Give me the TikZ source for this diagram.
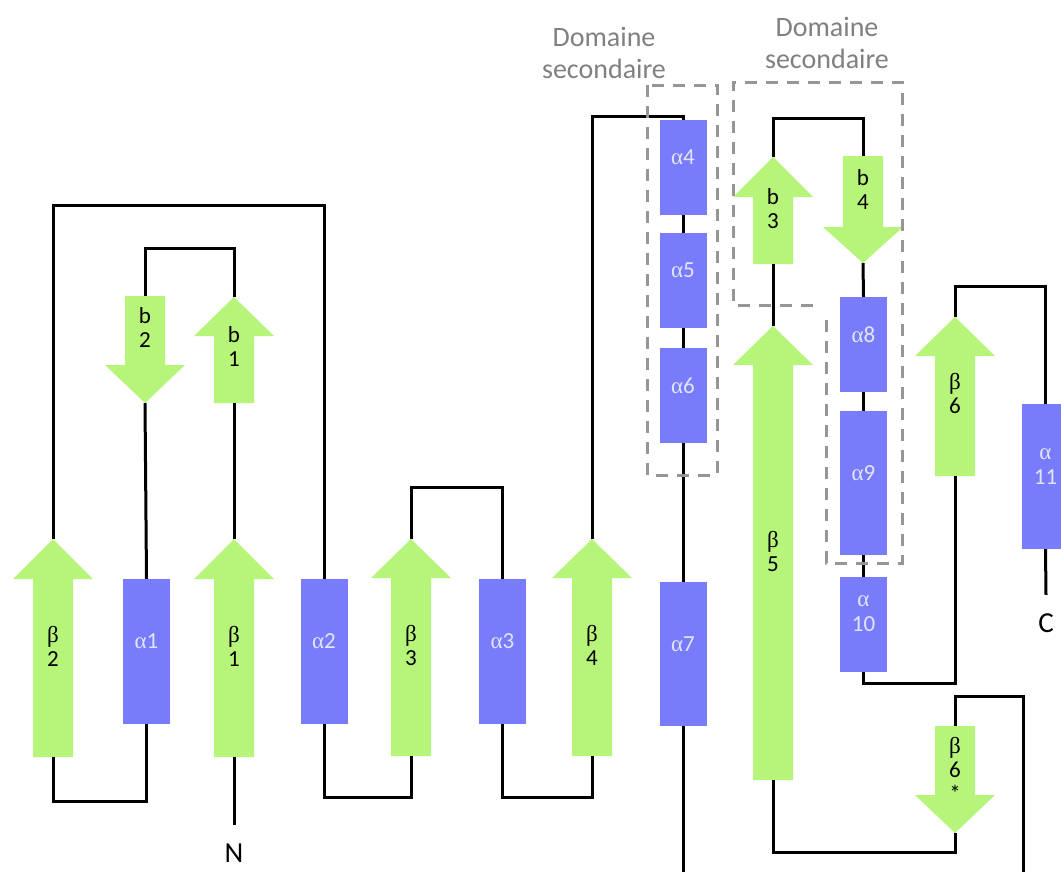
\documentclass[tikz,border=0pt]{standalone}
\usepackage{fontspec}
\setmainfont{Carlito}
\newfontfamily\greekfont{Liberation Serif}
\newcommand{\galpha}{{\greekfont α}}
\newcommand{\gbeta}{{\greekfont β}}
\definecolor{strandgreen}{RGB}{182,245,122}
\definecolor{helixblue}{RGB}{120,124,250}
\definecolor{helixtext}{RGB}{226,229,255}
\definecolor{domaingray}{RGB}{150,150,150}
\definecolor{labelgray}{RGB}{128,128,128}

% up strand: name, x, tip, head base, tail, label y, text
\newcommand{\strandup}[7]{%
  \fill[strand] (#2-20,#5) -- (#2-20,#4) -- (#2-40,#4) -- (#2,#3)
    -- (#2+40,#4) -- (#2+20,#4) -- (#2+20,#5) -- cycle;
  \coordinate (#1-tip) at (#2,#3);
  \coordinate (#1-end) at (#2,#5);
  \node[strand label] (#1) at (#2,#6) {#7};}
% down strand: name, x, top, head base, tip, label y, text
\newcommand{\stranddown}[7]{%
  \fill[strand] (#2-20,#3) -- (#2-20,#4) -- (#2-40,#4) -- (#2,#5)
    -- (#2+40,#4) -- (#2+20,#4) -- (#2+20,#3) -- cycle;
  \coordinate (#1-top) at (#2,#3);
  \coordinate (#1-tip) at (#2,#5);
  \node[strand label] (#1) at (#2,#6) {#7};}

\begin{document}
\begin{tikzpicture}[x=1pt,y=-1pt,
  backbone/.style={draw=black,line width=3pt},
  strand/.style={fill=strandgreen},
  helix node/.style={rectangle,fill=helixblue,minimum width=47pt,inner sep=0pt},
  helix label/.style={text=helixtext,font=\fontsize{23}{25}\selectfont,align=center,inner sep=0pt},
  strand label/.style={font=\fontsize{23}{24}\selectfont,align=center,inner sep=0pt},
  end label/.style={font=\fontsize{29}{32}\selectfont,inner sep=0pt},
  domain label/.style={text=labelgray,font=\fontsize{28}{32}\selectfont,align=center},
  domain box/.style={draw=domaingray,line width=3pt,dash pattern=on 12pt off 9pt}]
  \fill[white] (0,0) rectangle (1061,871);
  \useasboundingbox (0,0) rectangle (1061,871);

  % strands
  \strandup{beta2}{53}{539}{579}{757}{646}{\gbeta\\2}
  \strandup{beta1}{234}{539}{579}{757}{646}{\gbeta\\1}
  \strandup{beta3}{411}{539}{578}{756}{645}{\gbeta\\3}
  \strandup{beta4}{592}{539}{578}{756}{645}{\gbeta\\4}
  \strandup{b1}{234}{297}{336}{403}{347}{b\\1}
  \stranddown{b2}{145}{296}{365}{403}{328}{b\\2}
  \strandup{b3}{773}{157}{197}{264}{209}{b\\3}
  \stranddown{b4}{863}{156}{227}{263}{190}{b\\4}
  \strandup{beta5}{773}{326}{365}{780}{551}{\gbeta\\5}
  \strandup{beta6}{955}{317}{356}{476}{393}{\gbeta\\6}
  \stranddown{beta6s}{955}{726}{795}{833}{769}{\gbeta\\6\\*}

  % helices
  \node[helix node,minimum height=145pt] (a1) at (146.5,651.5) {};
  \node[helix node,minimum height=145pt] (a2) at (324,651.5) {};
  \node[helix node,minimum height=145pt] (a3) at (502.5,651.5) {};
  \node[helix node,minimum height=95pt] (a4) at (683,167.5) {};
  \node[helix node,minimum height=95pt] (a5) at (683,280.5) {};
  \node[helix node,minimum height=95pt] (a6) at (683,395.5) {};
  \node[helix node,minimum height=144pt] (a7) at (683,654) {};
  \node[helix node,minimum height=95pt] (a8) at (863.5,344.5) {};
  \node[helix node,minimum height=144pt] (a9) at (863.5,483) {};
  \node[helix node,minimum height=95pt] (a10) at (863.5,624.5) {};
  \node[helix node,minimum height=145pt] (a11) at (1045.5,476.5) {};

  \node[helix label] (a1-text) at ([yshift=10pt]a1.center) {\galpha1};
  \node[helix label] (a2-text) at ([yshift=10pt]a2.center) {\galpha2};
  \node[helix label] (a3-text) at ([yshift=10pt]a3.center) {\galpha3};
  \node[helix label] (a4-text) at ([yshift=10pt]a4.center) {\galpha4};
  \node[helix label] (a5-text) at ([yshift=10pt]a5.center) {\galpha5};
  \node[helix label] (a6-text) at ([yshift=10pt]a6.center) {\galpha6};
  \node[helix label] (a7-text) at ([yshift=10pt]a7.center) {\galpha7};
  \node[helix label] (a8-text) at ([yshift=10pt]a8.center) {\galpha8};
  \node[helix label] (a9-text) at ([yshift=10pt]a9.center) {\galpha9};
  \node[helix label] (a10-text) at ([yshift=11pt]a10.center) {\galpha\\10};
  \node[helix label] (a11-text) at ([yshift=10pt]a11.center) {\galpha\\11};

  \node[end label] (N) at (234,853.5) {N};
  \node[end label] (C) at (1046,623.5) {C};

  % loops
  \draw[backbone] (beta1-end) -- ([yshift=19pt]N.north);
  \draw[backbone] (beta1-tip) -- (b1-end);
  \draw[backbone] (b1-tip) -- ++(0,-49) -| (b2-top);
  \draw[backbone] (b2-tip) -- (a1.north);
  \draw[backbone] (a1.south) -- ++(0,77) -| (beta2-end);
  \draw[backbone] (beta2-tip) -- ++(0,-334) -| (a2.north);
  \draw[backbone] (a2.south) -- ++(0,73) -| (beta3-end);
  \draw[backbone] (beta3-tip) -- ++(0,-52) -| (a3.north);
  \draw[backbone] (a3.south) -- ++(0,73) -| (beta4-end);
  \draw[backbone] (beta4-tip) -- ++(0,-423) -| (a4.north);
  \draw[backbone] (a4.south) -- (a5.north);
  \draw[backbone] (a5.south) -- (a6.north);
  \draw[backbone] (a6.south) -- (a7.north);
  \draw[backbone] (a7.south) -- ++(0,165) -- ++(340,0) -- ++(0,-195) -| (beta6s-top);
  \draw[backbone] (beta6s-tip) -- ++(0,19) -| (beta5-end);
  \draw[backbone] (beta5-tip) -- (b3-end);
  \draw[backbone] (b3-tip) -- ++(0,-39) -| (b4-top);
  \draw[backbone] (b4-tip) -- (a8.north);
  \draw[backbone] (a8.south) -- (a9.north);
  \draw[backbone] (a9.south) -- (a10.north);
  \draw[backbone] (a10.south) -- ++(0,11) -| (beta6-end);
  \draw[backbone] (beta6-tip) -- ++(0,-31) -| (a11.north);
  \draw[backbone] (a11.south) -- ([yshift=19pt]C.north);

  % domains
  \draw[domain box] (647,85) rectangle (717,475);
  \draw[domain box] (813,305) -- (733,305) -- (733,82) -- (902,82) -- (902,563) -- (826,563) -- (826,313);
  \node[domain label] (dom1) at (604,53) {Domaine\\secondaire};
  \node[domain label] (dom2) at (827,43) {Domaine\\secondaire};
\end{tikzpicture}
\end{document}
